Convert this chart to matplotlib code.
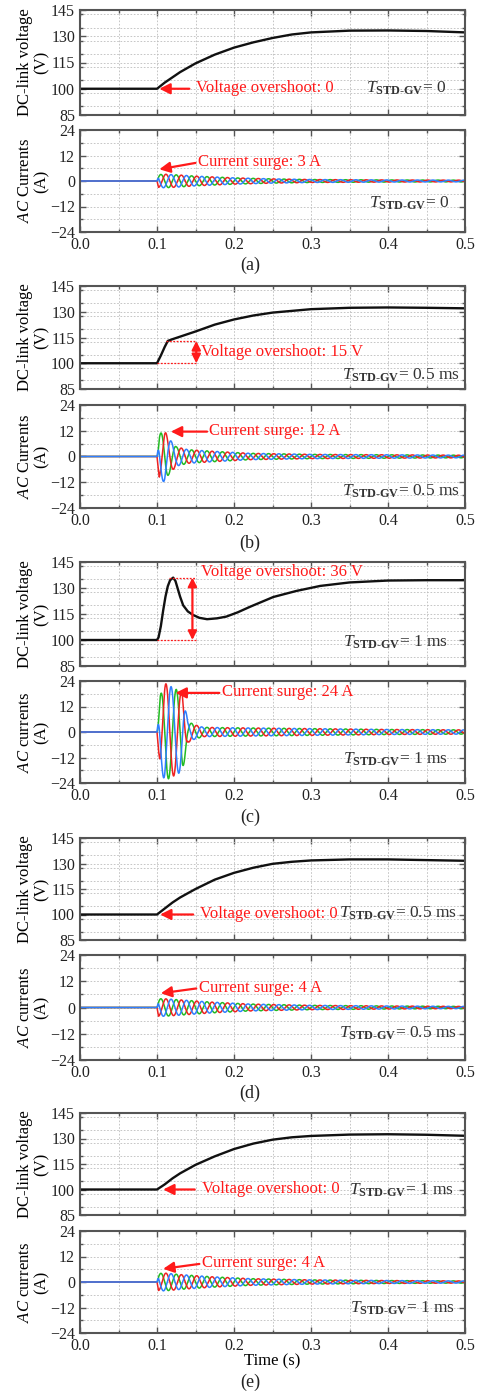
import numpy as np
import matplotlib
matplotlib.use("Agg")
import matplotlib.pyplot as plt
from matplotlib.ticker import MultipleLocator

plt.rcParams['font.family'] = ['Liberation Serif', 'DejaVu Serif']
plt.rcParams['mathtext.fontset'] = 'custom'
plt.rcParams['mathtext.rm'] = 'Liberation Serif'
plt.rcParams['mathtext.it'] = 'Liberation Serif:italic'
plt.rcParams['mathtext.bf'] = 'Liberation Serif:bold'

# ---------------- data ----------------
panel_labels = ["(a)", "(b)", "(c)", "(d)", "(e)"]
t_std_gv = ["0", "0.5 ms", "1 ms", "0.5 ms", "1 ms"]
current_ylabels = ["AC Currents", "AC Currents", "AC currents", "AC currents", "AC currents"]
voltage_notes = ["Voltage overshoot: 0", "Voltage overshoot: 15 V", "Voltage overshoot: 36 V",
                 "Voltage overshoot: 0", "Voltage overshoot: 0"]
current_notes = ["Current surge: 3 A", "Current surge: 12 A", "Current surge: 24 A",
                 "Current surge: 4 A", "Current surge: 4 A"]

# DC-link voltage curves (time s, voltage V)
va_t = [0, 0.1, 0.11, 0.12, 0.13, 0.15, 0.175, 0.2, 0.225, 0.25, 0.275, 0.3, 0.35, 0.4, 0.45, 0.5]
va_v = [100, 100, 103.5, 106.5, 109.5, 114.5, 119.5, 123.5, 126.5, 129, 131, 132.2, 133.2, 133.3, 133, 132.2]

vb_t = [0, 0.1, 0.105, 0.11, 0.114, 0.12, 0.13, 0.15, 0.175, 0.2, 0.225, 0.25, 0.3, 0.35, 0.4, 0.45, 0.5]
vb_v = [100, 100, 104.5, 109.5, 113, 114, 115.5, 118.5, 122.5, 125.5, 127.8, 129.5, 131.5, 132.3, 132.5, 132.3, 132]

vc_t = [0, 0.1, 0.102, 0.105, 0.108, 0.111, 0.114, 0.117, 0.121, 0.124, 0.127, 0.13, 0.134,
        0.14, 0.147, 0.155, 0.165, 0.178, 0.19, 0.205, 0.221, 0.236, 0.251, 0.281, 0.312,
        0.35, 0.4, 0.45, 0.5]
vc_v = [100, 100, 101.5, 108, 117, 125, 131, 134.5, 136, 134, 129.5, 125, 120,
        116.5, 114.4, 112.8, 112, 112.5, 113.5, 116, 119.2, 122, 124.8, 128.3, 131.2,
        133.2, 134.3, 134.5, 134.5]

vd_t = [0, 0.1, 0.11, 0.12, 0.13, 0.15, 0.175, 0.2, 0.225, 0.25, 0.275, 0.3, 0.35, 0.4, 0.45, 0.5]
vd_v = [100, 100, 103.5, 107, 110, 115, 120.5, 124.5, 127.5, 129.8, 131, 131.8, 132.4, 132.4, 132, 131.6]

ve_t = [0, 0.1, 0.11, 0.12, 0.13, 0.15, 0.175, 0.2, 0.225, 0.25, 0.275, 0.3, 0.35, 0.4, 0.45, 0.5]
ve_v = [100, 100, 103, 106.5, 109.5, 114.5, 119.5, 123.8, 127, 129.3, 130.7, 131.5, 132.3, 132.5, 132.2, 131.6]

# AC current envelopes (time s, peak amplitude A) of the 50 Hz three-phase currents
ia_t = [0.1, 0.102, 0.11, 0.13, 0.15, 0.2, 0.25, 0.3, 0.4, 0.5]
ia_a = [0.0, 3.0, 3.2, 2.8, 2.3, 1.5, 1.0, 0.7, 0.5, 0.4]

ib_t = [0.1, 0.103, 0.11, 0.115, 0.125, 0.14, 0.17, 0.22, 0.3, 0.5]
ib_a = [0.0, 10.5, 12.0, 8.5, 4.5, 3.2, 2.5, 1.5, 1.0, 0.6]

ic_t = [0.1, 0.104, 0.11, 0.12, 0.133, 0.14, 0.148, 0.16, 0.2, 0.3, 0.4, 0.5]
ic_a = [0.0, 17.0, 23.0, 21.0, 18.5, 5.0, 3.5, 2.2, 2.0, 1.6, 1.2, 1.0]

id_t = [0.1, 0.102, 0.11, 0.13, 0.17, 0.22, 0.3, 0.4, 0.5]
id_a = [0.0, 4.0, 4.0, 3.5, 2.5, 1.6, 1.0, 0.7, 0.5]

ie_t = [0.1, 0.102, 0.11, 0.13, 0.17, 0.22, 0.3, 0.4, 0.5]
ie_a = [0.0, 4.0, 4.2, 3.5, 2.5, 1.6, 1.0, 0.7, 0.5]

grid_frequency_hz = 50.0
phase_colors = ["#22bb22", "#ee2222", "#2f7fff"]   # green, red, blue
phase_shifts = [0.0, -2 * np.pi / 3, -4 * np.pi / 3]

volt_data = [(va_t, va_v), (vb_t, vb_v), (vc_t, vc_v), (vd_t, vd_v), (ve_t, ve_v)]
curr_env = [(ia_t, ia_a), (ib_t, ib_a), (ic_t, ic_a), (id_t, id_a), (ie_t, ie_a)]

# ---------------- layout (pixels) ----------------
W, H = 484, 1393
fig = plt.figure(figsize=(W / 100, H / 100), dpi=100)
left_px, right_px = 80, 465
volt_rows = [(10, 115), (286, 389), (562, 666), (838, 940), (1113, 1215)]
curr_rows = [(130, 232), (405, 508), (681, 783), (955, 1060), (1231, 1333)]
label_y = [265, 543, 817, 1093, 1382]

RED = "#ff1a1a"
TXT = "#333333"
SPINE = "#555555"
NOTE_FS = 12
T_FS = 12.5


def make_ax(top, bottom):
    return fig.add_axes([left_px / W, 1 - bottom / H, (right_px - left_px) / W, (bottom - top) / H])


def style(ax, major_y, minor_y):
    ax.set_xlim(0, 0.5)
    ax.xaxis.set_major_locator(MultipleLocator(0.1))
    ax.xaxis.set_minor_locator(MultipleLocator(0.05))
    ax.yaxis.set_major_locator(MultipleLocator(major_y))
    ax.yaxis.set_minor_locator(MultipleLocator(minor_y))
    ax.grid(True, which='both', linestyle=(0, (2, 2)), color='#bdbdbd', linewidth=0.6)
    ax.set_axisbelow(True)
    ax.tick_params(which='both', direction='in', top=True, right=True, colors=SPINE,
                   labelcolor='#222222', labelsize=11.5, width=1.0)
    ax.tick_params(which='major', length=4)
    ax.tick_params(which='minor', length=2.5)
    for s in ax.spines.values():
        s.set_color(SPINE)
        s.set_linewidth(1.5)


def tlabel(val):
    return r"$T_{\mathbf{STD" + "\u2010" + r"GV}}$" + "= " + val


t_fine = np.arange(0, 0.5001, 0.0001)

for i in range(5):
    # ---- voltage ----
    ax = make_ax(*volt_rows[i])
    style(ax, 15, 7.5)
    ax.set_ylim(85, 145)
    ax.set_yticks([85, 100, 115, 130, 145])
    ax.tick_params(labelbottom=False)
    tv, vv = volt_data[i]
    ax.plot(tv, vv, color='#111111', lw=1.7, solid_joinstyle='round')
    ax.set_ylabel("DC-link voltage\n(V)", fontsize=12, linespacing=1.0)
    ax.yaxis.set_label_coords(-0.08, 0.5)

    if i in (0, 3, 4):
        heads = {0: 0.103, 3: 0.104, 4: 0.108}
        tails = {0: 0.142, 3: 0.147, 4: 0.149}
        ax.annotate("", xy=(heads[i], 100), xytext=(tails[i], 100),
                    arrowprops=dict(arrowstyle='-|>', color=RED, lw=1.6, mutation_scale=16,
                                    shrinkA=0, shrinkB=0))
        ax.text(tails[i] + 0.009, 100.5, voltage_notes[i], color=RED, fontsize=NOTE_FS,
                va='center', ha='left')
        ty = {0: 100.5, 3: 100.5, 4: 99.5}[i]
        tx = {0: 0.475, 3: 0.49, 4: 0.485}[i]
        ax.text(tx, ty, tlabel(t_std_gv[i]), color=TXT, fontsize=T_FS, va='center', ha='right')
    else:
        peak = 113 if i == 1 else 136
        ax_x = 0.151 if i == 1 else 0.146
        x0 = 0.112 if i == 1 else 0.115
        ax.plot([x0, 0.15], [peak, peak], color=RED, lw=0.9, linestyle=(0, (1.5, 1.2)))
        ax.plot([0.1, 0.15], [100, 100], color=RED, lw=0.9, linestyle=(0, (1.5, 1.2)))
        ax.annotate("", xy=(ax_x, peak), xytext=(ax_x, 100),
                    arrowprops=dict(arrowstyle='<|-|>', color=RED, lw=1.6, mutation_scale=13,
                                    shrinkA=0, shrinkB=0))
        ny = 106.5 if i == 1 else 139.5
        ax.text(0.157, ny, voltage_notes[i], color=RED, fontsize=NOTE_FS, va='center', ha='left')
        ty = 93 if i == 1 else 98.5
        tx = 0.493 if i == 1 else 0.478
        ax.text(tx, ty, tlabel(t_std_gv[i]), color=TXT, fontsize=T_FS, va='center', ha='right')

    # ---- currents ----
    ax2 = make_ax(*curr_rows[i])
    style(ax2, 12, 6)
    ax2.set_ylim(-24, 24)
    ax2.set_yticks([-24, -12, 0, 12, 24])
    ax2.set_xticks([0.0, 0.1, 0.2, 0.3, 0.4, 0.5])
    ax2.set_xticklabels(["0.0", "0.1", "0.2", "0.3", "0.4", "0.5"])
    et, ea = curr_env[i]
    env = np.interp(t_fine, et, ea, left=0.0)
    w = 2 * np.pi * grid_frequency_hz
    for col, ph in zip(phase_colors, phase_shifts):
        y = env * np.sin(w * (t_fine - 0.1) + ph)
        ax2.plot(t_fine, y, color=col, lw=1.1)
    ax2.set_ylabel(r"$\mathit{AC}$" + current_ylabels[i][2:] + "\n(A)", fontsize=12, linespacing=1.0)
    ax2.yaxis.set_label_coords(-0.08, 0.5)

    heads = [(0.103, 5.5), (0.118, 11.6), (0.124, 18.4), (0.105, 6.5), (0.108, 6.2)]
    tails = [(0.150, 8.5), (0.165, 11.6), (0.181, 18.4), (0.151, 8.7), (0.155, 8.5)]
    ax2.annotate("", xy=heads[i], xytext=tails[i],
                 arrowprops=dict(arrowstyle='-|>', color=RED, lw=1.6, mutation_scale=16,
                                 shrinkA=0, shrinkB=0))
    ax2.text(tails[i][0] + 0.003, tails[i][1] + 0.3, current_notes[i], color=RED,
             fontsize=NOTE_FS, va='center', ha='left')
    cy = [-10.5, -16.4, -13, -11.7, -12.2][i]
    cx = [0.48, 0.493, 0.478, 0.49, 0.487][i]
    ax2.text(cx, cy, tlabel(t_std_gv[i]), color=TXT, fontsize=T_FS, va='center', ha='right')

    if i == 4:
        ax2.set_xlabel("Time (s)", fontsize=12, labelpad=0)

    fig.text(250 / W, 1 - label_y[i] / H, panel_labels[i], fontsize=13, ha='center', va='center',
             color='#222222')

fig.savefig("out.png", dpi=100)
